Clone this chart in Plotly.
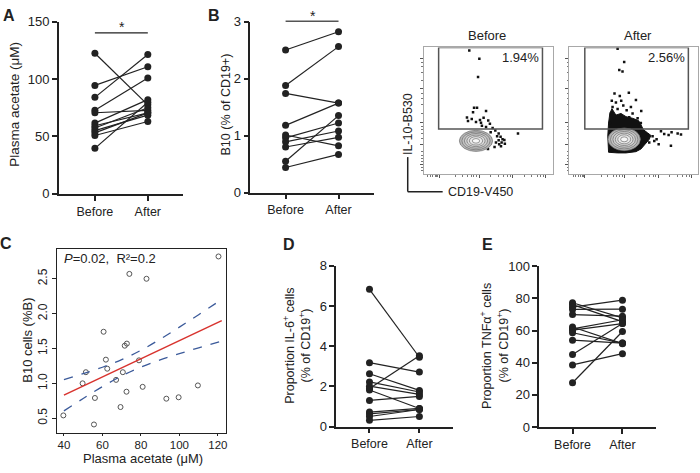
import plotly.graph_objects as go

# ---------------- data ----------------
categories = ["Before", "After"]

# Panel A: plasma acetate (uM)
a_before = [122.4, 94.4, 84.0, 72.8, 70.6, 61.6, 59.3, 57.3, 55.1, 53.1, 50.8, 39.6]
a_after = [77.5, 110.6, 121.3, 100.9, 72.7, 82.0, 70.5, 75.0, 68.5, 70.5, 63.0, 79.8]
a_ticks = [0, 50, 100, 150]

# Panel B: B10 (% of CD19+)
b_before = [2.50, 1.88, 1.74, 1.18, 1.01, 0.96, 0.89, 0.80, 0.55, 0.44]
b_after = [2.82, 2.56, 1.57, 1.57, 0.82, 1.22, 1.08, 0.97, 1.35, 0.67]
b_ticks = [0, 1, 2, 3]

# Flow plots (arbitrary display units 0-100)
flow_before_x = [35.4, 43.2, 42.2, 39.1, 41.4, 38.3, 48.4, 33.6, 34.4, 37.3, 40.6, 43.7, 46.5, 50.1,
                 51.4, 53.5, 55.6, 58.2, 59.7, 61.2, 58.2, 56.1, 60.5, 62.6, 58.6, 49.9, 73.2, 45.2,
                 48.4, 44.5, 52.0, 57.0, 60.0, 63.0, 55.0]
flow_before_y = [97.5, 91.1, 76.6, 52.4, 52.4, 48.9, 49.9, 44.8, 42.0, 43.5, 41.2, 42.8, 44.6, 42.3,
                 39.7, 36.4, 34.4, 32.1, 29.5, 27.5, 26.7, 25.0, 25.0, 27.0, 23.7, 19.8, 32.1, 38.2,
                 37.2, 40.5, 33.0, 30.0, 22.0, 24.0, 21.5]
flow_after_x = [37.5, 42.6, 38.8, 41.3, 35.1, 39.2, 46.2, 33.0, 36.2, 40.3, 51.7, 33.6, 37.5, 41.9,
                44.5, 47.8, 49.1, 55.8, 46.5, 53.0, 32.3, 34.9, 31.5, 55.5, 60.7, 64.6, 67.7, 71.1,
                73.6, 77.0, 79.3, 84.0, 86.6, 78.8, 69.3, 62.0, 65.9]
flow_after_y = [99.0, 88.5, 82.2, 80.9, 63.7, 61.6, 64.2, 58.0, 56.5, 58.0, 58.5, 53.0, 51.4, 54.2,
                50.4, 53.0, 47.9, 49.9, 44.9, 44.1, 47.9, 44.1, 40.3, 40.3, 31.3, 30.0, 27.5, 33.8,
                31.8, 31.0, 33.1, 32.1, 31.3, 22.4, 23.7, 25.0, 26.2]
# outline of the dense event cloud in the "After" plot
after_cloud_x = [30.5, 29.9, 30.5, 31.5, 33.1, 36.2, 40.1, 44.0, 49.1, 53.7, 55.6, 57.4, 60.7,
                 63.3, 62.0, 58.9, 55.6, 51.7, 44.0, 37.5, 32.3, 30.5]
after_cloud_y = [17.3, 30.1, 40.3, 47.9, 51.7, 46.6, 47.9, 45.4, 44.1, 42.3, 39.0, 35.2, 32.6,
                 30.6, 27.5, 23.7, 19.9, 17.8, 16.8, 16.8, 16.8, 17.3]
# contour centres / radii  (x, y, rx, ry)
contour_before = [40.6, 26.3, 12.9, 8.3]
contour_after = [42.6, 27.5, 12.5, 8.9]
contour_scales = [1.0, 0.85, 0.7, 0.55, 0.4, 0.22]
gate_before = [11.6, 92.2, 35.6, 100.0]
gate_after = [12.1, 92.3, 35.6, 100.0]
gate_pct = ["1.94%", "2.56%"]

# Panel C: regression
c_x = [39.7, 49.7, 51.4, 56.1, 55.6, 60.6, 61.8, 62.5, 67.1, 69.4, 70.6, 71.6, 72.7, 72.5, 74.0,
       79.0, 80.9, 82.9, 93.2, 99.6, 109.6, 120.3]
c_y = [0.54, 1.00, 1.16, 0.79, 0.41, 1.74, 1.34, 1.21, 1.05, 0.66, 1.16, 1.54, 1.57, 0.88, 2.57,
       1.33, 0.95, 2.50, 0.78, 0.80, 0.97, 2.82]
fit_x = [40, 122]
fit_y = [0.83, 1.90]
ci_x = [40, 50, 60, 70, 80, 90, 100, 110, 122]
ci_upper = [1.055, 1.139, 1.231, 1.340, 1.474, 1.633, 1.806, 1.985, 2.204]
ci_lower = [0.605, 0.783, 0.953, 1.106, 1.234, 1.337, 1.426, 1.509, 1.604]
c_xticks = [40, 60, 80, 100, 120]
c_yticks = [0.5, 1.0, 1.5, 2.0, 2.5]
c_yticklabels = ["0.5", "1.0", "1.5", "2.0", "2.5"]

# Panel D: IL-6+
d_before = [6.83, 3.18, 2.63, 2.22, 2.01, 1.90, 1.82, 1.30, 0.72, 0.63, 0.50, 0.31]
d_after = [3.45, 2.71, 1.80, 1.72, 1.60, 3.53, 0.90, 1.50, 0.90, 0.85, 0.85, 0.50]
d_ticks = [0, 2, 4, 6, 8]

# Panel E: TNFa+
e_before = [77.3, 76.1, 74.5, 73.1, 69.9, 62.2, 61.0, 60.2, 58.6, 54.0, 45.0, 38.6, 27.5]
e_after = [67.9, 65.5, 78.9, 73.3, 68.9, 51.8, 66.7, 64.3, 52.2, 52.2, 64.3, 45.6, 59.4]
e_ticks = [0, 20, 40, 60, 80, 100]

# ---------------- helpers ----------------
W, H = 700, 473
FONT = "Liberation Sans, Arial, sans-serif"
INK = "#222222"


def px(x):
    return x / W


def py(y):
    return 1 - y / H


fig = go.Figure()


def paired(before, after, xa, ya):
    xs, ys = [], []
    for b, a in zip(before, after):
        xs += [0, 1, None]
        ys += [b, a, None]
    fig.add_trace(go.Scatter(x=xs, y=ys, mode="lines+markers",
                             line=dict(color=INK, width=1.2),
                             marker=dict(size=7, color=INK),
                             xaxis=xa, yaxis=ya, showlegend=False, hoverinfo="skip",
                             cliponaxis=False))


paired(a_before, a_after, "x", "y")
paired(b_before, b_after, "x2", "y2")
paired(d_before, d_after, "x6", "y6")
paired(e_before, e_after, "x7", "y7")

# flow plots
fig.add_trace(go.Scatter(x=after_cloud_x, y=after_cloud_y, mode="lines", fill="toself",
                         fillcolor="#111111", line=dict(color="#111111", width=1),
                         xaxis="x4", yaxis="y4", showlegend=False, hoverinfo="skip"))
fig.add_trace(go.Scatter(x=flow_before_x, y=flow_before_y, mode="markers",
                         marker=dict(size=2.5, color="#111111", symbol="square"),
                         xaxis="x3", yaxis="y3", showlegend=False, hoverinfo="skip"))
fig.add_trace(go.Scatter(x=flow_after_x, y=flow_after_y, mode="markers",
                         marker=dict(size=2.5, color="#111111", symbol="square"),
                         xaxis="x4", yaxis="y4", showlegend=False, hoverinfo="skip"))

# panel C
fig.add_trace(go.Scatter(x=c_x, y=c_y, mode="markers",
                         marker=dict(size=5, color="rgba(0,0,0,0)",
                                     line=dict(color="#555555", width=1)),
                         xaxis="x5", yaxis="y5", showlegend=False, hoverinfo="skip"))
fig.add_trace(go.Scatter(x=ci_x, y=ci_upper, mode="lines", line=dict(color="#3b5a9a", width=1.3, dash="dash"),
                         line_shape="spline", xaxis="x5", yaxis="y5", showlegend=False, hoverinfo="skip"))
fig.add_trace(go.Scatter(x=ci_x, y=ci_lower, mode="lines", line=dict(color="#3b5a9a", width=1.3, dash="dash"),
                         line_shape="spline", xaxis="x5", yaxis="y5", showlegend=False, hoverinfo="skip"))
fig.add_trace(go.Scatter(x=fit_x, y=fit_y, mode="lines", line=dict(color="#d8332e", width=1.5),
                         xaxis="x5", yaxis="y5", showlegend=False, hoverinfo="skip"))

# ---------------- axes ----------------
tickfont = dict(family=FONT, size=13, color=INK)


def cat_x(domain, anchor, rng):
    return dict(domain=domain, anchor=anchor, range=rng, tickvals=[0, 1],
                ticktext=categories, showline=True, linecolor=INK, linewidth=1.5,
                ticks="outside", ticklen=5, tickwidth=1.5, tickcolor=INK,
                showgrid=False, zeroline=False, tickfont=dict(family=FONT, size=12.5, color=INK))


def val_y(domain, anchor, rng, ticks):
    return dict(domain=domain, anchor=anchor, range=rng, tickvals=ticks,
                showline=True, linecolor=INK, linewidth=1.5,
                ticks="outside", ticklen=5, tickwidth=1.5, tickcolor=INK,
                showgrid=False, zeroline=False, tickfont=tickfont)


def flow_axis(domain, anchor, major, minor):
    return dict(domain=domain, anchor=anchor, range=[0, 100], showline=True, mirror=True,
                linecolor="#a8a8a8", linewidth=1, showgrid=False, zeroline=False,
                showticklabels=False, ticks="outside", ticklen=3, tickcolor="#555555",
                tickwidth=1, tickvals=major,
                minor=dict(tickvals=minor, ticks="outside", ticklen=1.5, tickcolor="#777777"))


flow_major_y = [7.6, 23.7, 40.8, 67.5, 91.0]
flow_minor_y = [3, 5, 10, 12, 15, 18, 28, 32, 35, 38, 48, 55, 60, 64, 74, 80, 85, 88]
flow_major_x = [12.2, 43.2, 69.1, 94.9]
flow_minor_x = [3, 5, 7, 9, 10, 11, 25, 30, 34, 37, 39, 41, 52, 58, 62, 65, 67, 78, 84, 88, 91, 93]

c_tickfont = dict(family=FONT, size=12, color=INK)

fig.update_layout(
    xaxis=cat_x([px(59), px(183)], "y", [-0.68, 1.66]),
    yaxis=val_y([py(193), py(15)], "x", [0, 150], a_ticks),
    xaxis2=cat_x([px(250.7), px(375)], "y2", [-0.666, 1.679]),
    yaxis2=val_y([py(191.7), py(15)], "x2", [0, 3], b_ticks),
    xaxis3=flow_axis([px(424.3), px(553.3)], "y3", flow_major_x, flow_minor_x),
    yaxis3=flow_axis([py(172.7), py(41.7)], "x3", flow_major_y, flow_minor_y),
    xaxis4=flow_axis([px(570), px(699.3)], "y4", flow_major_x, flow_minor_x),
    yaxis4=flow_axis([py(172.7), py(41.7)], "x4", flow_major_y, flow_minor_y),
    xaxis5=dict(domain=[px(56.7), px(226.7)], anchor="y5", range=[36.2, 124.4], tickvals=c_xticks,
                showline=True, mirror=True, linecolor=INK, linewidth=1, ticks="outside", ticklen=2,
                tickcolor=INK, showgrid=False, zeroline=False,
                tickfont=dict(family=FONT, size=11.5, color=INK)),
    yaxis5=dict(domain=[py(439.5), py(250)], anchor="x5", range=[0.294, 2.926], tickvals=c_yticks,
                ticktext=c_yticklabels, tickangle=-90, showline=True, mirror=True, linecolor=INK,
                linewidth=1, ticks="outside", ticklen=4, tickcolor=INK, showgrid=False,
                zeroline=False, tickfont=c_tickfont),
    xaxis6=cat_x([px(336.7), px(453.3)], "y6", [-0.667, 1.667]),
    yaxis6=val_y([py(433.3), py(267.3)], "x6", [0, 8], d_ticks),
    xaxis7=cat_x([px(540), px(656.7)], "y7", [-0.667, 1.667]),
    yaxis7=val_y([py(433.7), py(267.7)], "x7", [0, 100], e_ticks),
)

# ---------------- shapes ----------------
shapes = []
for (cx, cy, rx, ry), xr, yr in [(contour_before, "x3", "y3"), (contour_after, "x4", "y4")]:
    fills = ["#b4b4b4", "#c2c2c2", "#cfcfcf", "#dcdcdc", "#e9e9e9", "#f7f7f7"]
    for s, fc in zip(contour_scales, fills):
        shapes.append(dict(type="circle", xref=xr, yref=yr, x0=cx - rx * s, x1=cx + rx * s,
                           y0=cy - ry * s, y1=cy + ry * s, fillcolor=fc, layer="above",
                           line=dict(color="#6e6e6e", width=0.7)))
for g, xr, yr in [(gate_before, "x3", "y3"), (gate_after, "x4", "y4")]:
    shapes.append(dict(type="rect", xref=xr, yref=yr, x0=g[0], x1=g[1], y0=g[2], y1=g[3],
                       line=dict(color="#555555", width=1.5)))
# significance bars
shapes.append(dict(type="line", xref="x", yref="paper", x0=0, x1=1, y0=py(26.7), y1=py(26.7),
                   line=dict(color=INK, width=1.3)))
shapes.append(dict(type="line", xref="x2", yref="paper", x0=0, x1=1, y0=py(14.7), y1=py(14.7),
                   line=dict(color="#555555", width=1.3)))
# flow axis indicator
shapes.append(dict(type="line", xref="paper", yref="paper", x0=px(408.3), x1=px(408.3),
                   y0=py(155), y1=py(190.7), line=dict(color=INK, width=1.5)))
shapes.append(dict(type="line", xref="paper", yref="paper", x0=px(408.3), x1=px(443.3),
                   y0=py(190.7), y1=py(190.7), line=dict(color=INK, width=1.5)))
fig.update_layout(shapes=shapes)

# ---------------- annotations ----------------
ann = []


def text(x, y, t, size=13, angle=0, bold=False, xanchor="center", color=INK, pad=1):
    ann.append(dict(x=px(x), y=py(y), xref="paper", yref="paper", text=("<b>%s</b>" % t) if bold else t,
                    showarrow=False, textangle=angle, xanchor=xanchor, yanchor="middle",
                    borderpad=pad, font=dict(family=FONT, size=size, color=color)))


text(9, 9, "A", 16, bold=True)
text(214, 9, "B", 16, bold=True)
text(6, 244, "C", 16, bold=True)
text(289, 245, "D", 16, bold=True)
text(488, 245, "E", 16, bold=True)

text(15, 100, "Plasma acetate (μM)", 13.5, angle=-90)
text(226, 101, "B10 (% of CD19+)", 12.5, angle=-90)
text(122, 21, "*", 14)
text(313, 9, "*", 14)

text(487.7, 29.3, categories[0], 13)
text(639, 29.3, categories[1], 13)
text(521.7, 51.7, gate_pct[0], 13)
text(667.7, 51.7, gate_pct[1], 13)
text(408, 120.5, "IL-10-B530", 12.5, angle=-90)
text(447, 190.7, "CD19-V450", 12.5, xanchor="left")

text(62, 260, "<i>P</i>=0.02,  R²=0.2", 13, xanchor="left")
text(26.7, 344, "B10 cells (%B)", 13, angle=-90)
text(143, 466.5, "Plasma acetate (μM)", 13, pad=0)

text(289.3, 350, "Proportion IL-6<sup>+</sup> cells", 12.5, angle=-90)
text(305, 350, "(% of CD19<sup>+</sup>)", 12.5, angle=-90)
text(486.7, 350, "Proportion TNFα<sup>+</sup> cells", 12.5, angle=-90)
text(503.3, 350, "(% of CD19<sup>+</sup>)", 12.5, angle=-90)

fig.update_layout(annotations=ann, width=W, height=H, margin=dict(l=0, r=0, t=0, b=0),
                  paper_bgcolor="white", plot_bgcolor="white", showlegend=False,
                  font=dict(family=FONT, color=INK))

fig.write_html("out.html", config={"displayModeBar": False})
